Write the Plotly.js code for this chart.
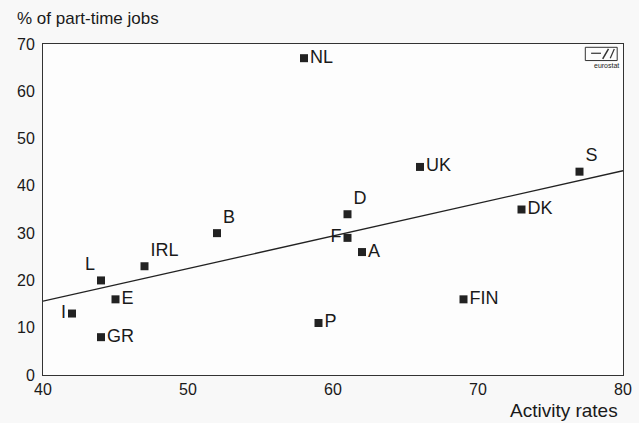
<!DOCTYPE html>
<html>
<head>
<meta charset="utf-8">
<script src="https://cdn.plot.ly/plotly-3.0.1.min.js"></script>
<style>html,body{margin:0;padding:0;background:#f8f8f8;}#chart{width:639px;height:423px;}</style>
</head>
<body>
<div id="chart"></div>
<script>
const countries = ["NL","UK","S","D","DK","B","F","A","IRL","L","E","I","GR","P","FIN"];
const activityRates = [58,66,77,61,73,52,61,62,47,44,45,42,44,59,69];
const partTimeShare = [67,44,43,34,35,30,29,26,23,20,16,13,8,11,16];
const trendX = [40,80];
const trendY = [15.6,43.2];
const xTicks = [40,50,60,70,80];
const yTicks = [0,10,20,30,40,50,60,70];

const labelPos = ["middle right","middle right","top right","top right","middle right","top right","middle left","middle right","top right","top left","middle right","middle left","middle right","middle right","middle right"];

const font = "Liberation Sans, Arial, sans-serif";
const data = [
  {x: trendX, y: trendY, mode: "lines", line: {color: "#222", width: 1.3}, hoverinfo: "skip", showlegend: false},
  {x: activityRates, y: partTimeShare, text: countries, mode: "markers+text",
   textposition: labelPos, textfont: {family: font, size: 18, color: "#1a1a1a"},
   marker: {symbol: "square", size: 8, color: "#222"}, showlegend: false}
];
const layout = {
  width: 639, height: 423,
  margin: {l: 43, r: 16, t: 44, b: 48},
  paper_bgcolor: "#f8f8f8", plot_bgcolor: "#fdfdfd",
  font: {family: font, size: 16, color: "#1a1a1a"},
  xaxis: {range: [40,80], tickvals: xTicks, showgrid: false, zeroline: false,
          showline: true, mirror: true, linecolor: "#333", linewidth: 1,
          ticks: "", tickfont: {size: 16}},
  yaxis: {range: [0,70], tickvals: yTicks, showgrid: false, zeroline: false,
          showline: true, mirror: true, linecolor: "#333", linewidth: 1,
          ticks: "", tickfont: {size: 16}, ticklabelstandoff: 4},
  annotations: [
    {xref: "paper", yref: "paper", x: -0.048, y: 1.0785, xanchor: "left", yanchor: "middle",
     text: "% of part-time jobs", showarrow: false, font: {size: 17, color: "#1a1a1a"}},
    {xref: "paper", yref: "paper", x: 0.995, y: -0.108, xanchor: "right", yanchor: "middle",
     text: "Activity rates", showarrow: false, font: {size: 19, color: "#1a1a1a"}},
    {xref: "paper", yref: "paper", x: 0.997, y: 0.935, xanchor: "right", yanchor: "middle",
     text: "eurostat", showarrow: false, font: {size: 7, color: "#222"}}
  ],
  shapes: [
    {type: "rect", xref: "paper", yref: "paper", x0: 0.935, x1: 0.99, y0: 0.95, y1: 0.99,
     line: {color: "#333", width: 1}, fillcolor: "rgba(0,0,0,0)"},
    {type: "line", xref: "paper", yref: "paper", x0: 0.965, x1: 0.975, y0: 0.955, y1: 0.985,
     line: {color: "#333", width: 1.5}},
    {type: "line", xref: "paper", yref: "paper", x0: 0.945, x1: 0.962, y0: 0.972, y1: 0.972,
     line: {color: "#333", width: 1.2}},
    {type: "line", xref: "paper", yref: "paper", x0: 0.978, x1: 0.985, y0: 0.957, y1: 0.985,
     line: {color: "#333", width: 1.2}}
  ]
};
Plotly.newPlot("chart", data, layout, {displayModeBar: false, staticPlot: true});
</script>
</body>
</html>
